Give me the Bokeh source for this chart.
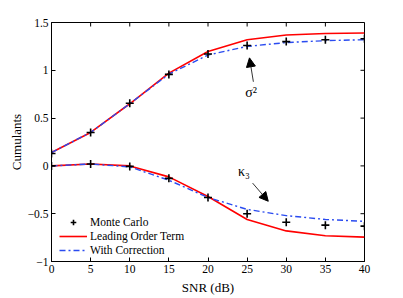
import math
from bokeh.plotting import figure
from bokeh.models import Arrow, NormalHead, Legend, LegendItem, Label, FixedTicker
from bokeh.embed import file_html
from bokeh.resources import INLINE

snr = [0, 5, 10, 15, 20, 25, 30, 35, 40]
sig_mc = [0.13, 0.35, 0.655, 0.957, 1.17, 1.26, 1.30, 1.32, 1.33]
sig_lead = [0.14, 0.35, 0.65, 0.97, 1.196, 1.32, 1.37, 1.385, 1.39]
sig_corr = [0.14, 0.35, 0.65, 0.96, 1.16, 1.25, 1.29, 1.31, 1.32]
k3_mc = [0.0, 0.02, -0.005, -0.13, -0.33, -0.50, -0.59, -0.62, -0.63]
k3_lead = [0.0, 0.02, 0.0, -0.115, -0.32, -0.56, -0.68, -0.73, -0.745]
k3_corr = [0.0, 0.02, -0.01, -0.15, -0.33, -0.455, -0.52, -0.56, -0.58]
xticks = [0, 5, 10, 15, 20, 25, 30, 35, 40]
yticks = [-1, -0.5, 0, 0.5, 1, 1.5]

FONT = "Liberation Serif"
XMIN, XMAX, YMIN, YMAX = 0, 40, -1, 1.5

p = figure(width=394, height=297, x_range=(XMIN, XMAX), y_range=(YMIN, YMAX),
           output_backend="svg", toolbar_location=None,
           min_border_left=51, min_border_right=30, min_border_top=22, min_border_bottom=32)
p.background_fill_color = "white"
p.border_fill_color = "white"
p.outline_line_color = "black"
p.outline_line_width = 1
p.grid.visible = False

for ax in [p.xaxis[0], p.yaxis[0]]:
    ax.major_tick_in = 4
    ax.major_tick_out = 0
    ax.minor_tick_line_color = None
    ax.axis_line_color = "black"
    ax.major_tick_line_color = "black"
    ax.major_label_text_color = "black"
    ax.axis_label_text_color = "black"
    ax.major_label_text_font = FONT
    ax.major_label_text_font_size = "11.5px"
    ax.axis_label_text_font = FONT
    ax.axis_label_text_font_size = "13px"
    ax.axis_label_text_font_style = "normal"
    ax.major_label_standoff = 3
p.xaxis.axis_label_standoff = 4
p.yaxis.axis_label_standoff = 1
p.xaxis.ticker = FixedTicker(ticks=xticks)
p.yaxis.ticker = FixedTicker(ticks=yticks)
p.xaxis.axis_label = "SNR (dB)"
p.yaxis.axis_label = "Cumulants"
p.yaxis.major_label_overrides = {-1: "\u22121", -0.5: "\u22120.5", 0: "0", 0.5: "0.5", 1: "1", 1.5: "1.5"}

# inward ticks on top and right edges (box style)
p.ray(x=xticks, y=[YMAX] * len(xticks), length=4, length_units="screen",
      angle=-math.pi / 2, line_color="black", line_width=1)
p.ray(x=[XMAX] * len(yticks), y=yticks, length=4, length_units="screen",
      angle=math.pi, line_color="black", line_width=1)

blue = "#2a4bf0"
red = "#ff0000"
r1 = p.line(snr, sig_lead, line_color=red, line_width=1.6)
p.line(snr, k3_lead, line_color=red, line_width=1.6)
r2 = p.line(snr, sig_corr, line_color=blue, line_width=1.4, line_dash="6 3 2 3")
p.line(snr, k3_corr, line_color=blue, line_width=1.4, line_dash="6 3 2 3")
r0 = p.scatter(snr, sig_mc, marker="cross", size=8, line_color="black", line_width=1.6)
p.scatter(snr, k3_mc, marker="cross", size=8, line_color="black", line_width=1.6)

p.add_layout(Arrow(end=NormalHead(size=9, fill_color="black", line_color="black"),
                   x_start=25.8, y_start=0.88, x_end=25.3, y_end=1.13,
                   line_color="black", line_width=0.8))
p.add_layout(Arrow(end=NormalHead(size=9, fill_color="black", line_color="black"),
                   x_start=25.7, y_start=-0.18, x_end=27.7, y_end=-0.37,
                   line_color="black", line_width=0.8))
p.add_layout(Label(x=25.5, y=0.77, text="\u03c3\u00b2", text_font=FONT, text_font_size="14px",
                   text_color="black", text_align="center", text_baseline="middle"))
p.add_layout(Label(x=24.6, y=-0.06, text="\u03ba\u2083", text_font=FONT, text_font_size="14px",
                   text_color="black", text_align="center", text_baseline="middle"))

legend = Legend(items=[LegendItem(label="Monte Carlo", renderers=[r0]),
                       LegendItem(label="Leading Order Term", renderers=[r1]),
                       LegendItem(label="With Correction", renderers=[r2])],
                location=(8, 4), border_line_color=None, background_fill_alpha=0,
                label_text_font=FONT, label_text_font_size="11.5px", label_text_color="black",
                glyph_width=28, glyph_height=14, label_height=14, spacing=0,
                padding=2, margin=0, label_standoff=3)
p.add_layout(legend)

open("out.html", "w").write(file_html(p, INLINE))
